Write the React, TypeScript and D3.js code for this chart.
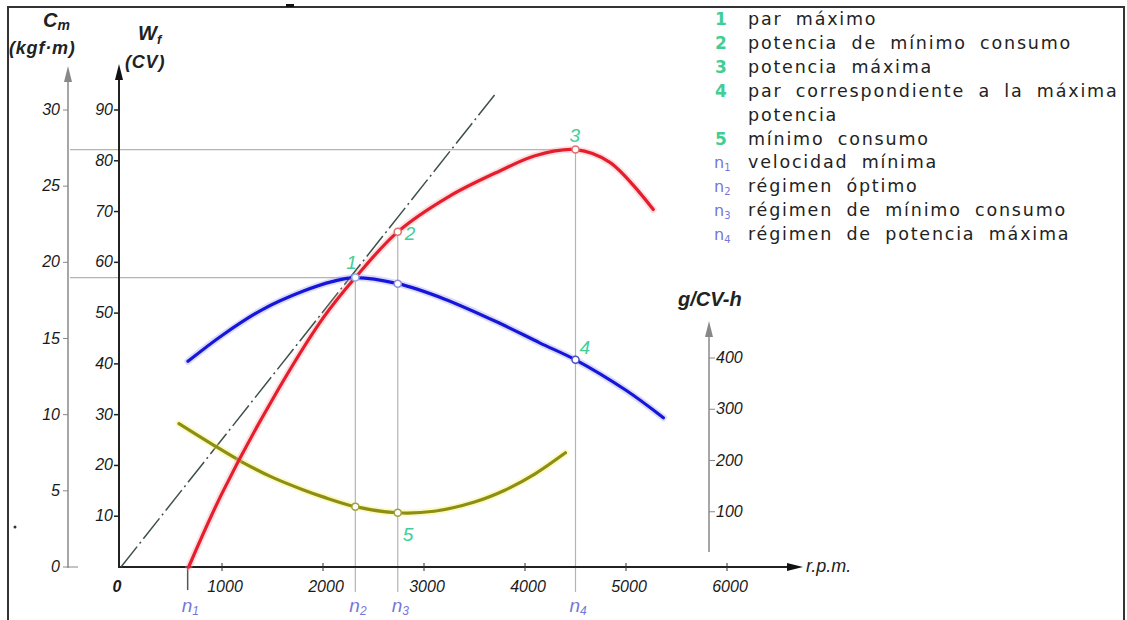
import React, { useRef, useEffect } from "react";
import * as d3 from "d3";

// curva de potencia (CV)
const powerRpm = [670, 1000, 1500, 2000, 2320, 2740, 3250, 3750, 4100, 4500, 4840, 5270];
const powerCV = [0, 14.5, 33, 49, 57, 66, 73, 78, 81, 82.2, 79.7, 70.4];

// curva de par (kgf·m)
const torqueRpm = [663, 1000, 1400, 1800, 2100, 2320, 2740, 3200, 3750, 4150, 4500, 5000, 5370];
const torqueKgfm = [13.5, 15.2, 16.9, 18.1, 18.75, 19.0, 18.6, 17.6, 16.0, 14.7, 13.6, 11.6, 9.8];

// consumo específico (g/CV-h)
const consRpm = [574, 900, 1200, 1500, 1800, 2000, 2320, 2740, 3100, 3500, 3800, 4100, 4400];
const consG = [272, 232, 197, 167, 143, 129, 110, 98, 101, 119, 142, 174, 215];

// recta tangente desde el origen
const tangentRpm = [0, 3700];
const tangentCV = [0, 93];

// regímenes
const nRpm = [660, 2320, 2740, 4500];
const nNames = ["1", "2", "3", "4"];

// ticks
const rpmTicks = [0, 1000, 2000, 3000, 4000, 5000, 6000];
const cvTicks = [10, 20, 30, 40, 50, 60, 70, 80, 90];
const cmTicks = [0, 5, 10, 15, 20, 25, 30];
const gTicks = [100, 200, 300, 400];

const legendKeys = ["1", "2", "3", "4", "", "5", "n1", "n2", "n3", "n4"];
const legendTexts = [
  "par máximo",
  "potencia de mínimo consumo",
  "potencia máxima",
  "par correspondiente a la máxima",
  "potencia",
  "mínimo consumo",
  "velocidad mínima",
  "régimen óptimo",
  "régimen de mínimo consumo",
  "régimen de potencia máxima",
];

const GREEN = "#3fcf96";
const NBLUE = "#7676d8";
const AXFONT = "'Liberation Sans Narrow', 'Liberation Sans', sans-serif";

export default function App() {
  const ref = useRef<SVGSVGElement>(null);

  useEffect(() => {
    const svg = d3.select(ref.current);
    svg.selectAll("*").remove();

    const x = d3.scaleLinear().domain([0, 6000]).range([121, 727]);
    const yW = d3.scaleLinear().domain([0, 90]).range([567, 110]);
    const yC = d3.scaleLinear().domain([0, 30]).range([567, 110]);
    const yG = d3.scaleLinear().domain([0, 400]).range([563, 358]);

    // marco
    svg.append("path")
      .attr("d", "M8,620 V7 H1124 V620")
      .attr("fill", "none")
      .attr("stroke", "#333")
      .attr("stroke-width", 2);
    svg.append("rect").attr("x", 286).attr("y", 4).attr("width", 8).attr("height", 3).attr("fill", "#111");
    svg.append("circle").attr("cx", 15).attr("cy", 527).attr("r", 1.5).attr("fill", "#333");

    const arrow = (cx: number, tip: number, color: string, horiz = false) => {
      const p = horiz
        ? `M${tip},${cx} L${tip - 16},${cx - 4} L${tip - 16},${cx + 4} Z`
        : `M${cx},${tip} L${cx - 4},${tip + 16} L${cx + 4},${tip + 16} Z`;
      svg.append("path").attr("d", p).attr("fill", color);
    };

    const pIdx = (r: number) => powerRpm.indexOf(r);
    const tIdx = (r: number) => torqueRpm.indexOf(r);
    const cIdx = (r: number) => consRpm.indexOf(r);

    // líneas guía
    const grid = svg.append("g").attr("stroke", "#b4b4b4").attr("stroke-width", 1.2);
    const wMax = yW(powerCV[pIdx(nRpm[3])]);
    const cMax = yC(torqueKgfm[tIdx(nRpm[1])]);
    grid.append("line").attr("x1", 70).attr("x2", x(nRpm[3])).attr("y1", wMax).attr("y2", wMax);
    grid.append("line").attr("x1", 70).attr("x2", x(nRpm[1])).attr("y1", cMax).attr("y2", cMax);
    grid.append("line").attr("x1", x(nRpm[1])).attr("x2", x(nRpm[1])).attr("y1", cMax).attr("y2", 592);
    grid.append("line").attr("x1", x(nRpm[2])).attr("x2", x(nRpm[2]))
      .attr("y1", yW(powerCV[pIdx(nRpm[2])])).attr("y2", 592);
    grid.append("line").attr("x1", x(nRpm[3])).attr("x2", x(nRpm[3])).attr("y1", wMax).attr("y2", 592);
    svg.append("line")
      .attr("x1", x(nRpm[0])).attr("x2", x(nRpm[0]))
      .attr("y1", 567).attr("y2", 590)
      .attr("stroke", "#555").attr("stroke-width", 1.5);

    const axisGroup = () =>
      svg.append("g").attr("font-family", AXFONT).attr("font-style", "italic")
        .attr("font-size", 16).attr("fill", "#1a1a1a");

    // eje Cm
    const gc = axisGroup();
    gc.append("line").attr("x1", 68).attr("x2", 68).attr("y1", 568).attr("y2", 80).attr("stroke", "#888").attr("stroke-width", 1.5);
    arrow(68, 66, "#888");
    cmTicks.forEach((t) => {
      gc.append("line").attr("x1", 63).attr("x2", t === 0 ? 78 : 68).attr("y1", yC(t)).attr("y2", yC(t)).attr("stroke", "#888");
      gc.append("text").attr("x", 60).attr("y", yC(t) + 5).attr("text-anchor", "end").text(t);
    });

    // eje W
    const gw = axisGroup();
    gw.append("line").attr("x1", 119).attr("x2", 119).attr("y1", 568).attr("y2", 80).attr("stroke", "#222").attr("stroke-width", 2);
    arrow(119, 64, "#111");
    cvTicks.forEach((t) => {
      gw.append("line").attr("x1", 114).attr("x2", 119).attr("y1", yW(t)).attr("y2", yW(t)).attr("stroke", "#222").attr("stroke-width", 1.5);
      gw.append("text").attr("x", 113).attr("y", yW(t) + 5).attr("text-anchor", "end").text(t);
    });

    // eje rpm
    const gx = axisGroup();
    gx.append("line").attr("x1", 119).attr("x2", 790).attr("y1", 567).attr("y2", 567).attr("stroke", "#222").attr("stroke-width", 2);
    arrow(567, 803, "#111", true);
    rpmTicks.forEach((t) => {
      if (t > 0) gx.append("line").attr("x1", x(t)).attr("x2", x(t)).attr("y1", 563).attr("y2", 571).attr("stroke", "#333");
      gx.append("text").attr("x", t === 0 ? 117 : x(t) + 3).attr("y", 592).attr("text-anchor", "middle")
        .attr("font-weight", t === 0 ? "bold" : "normal").text(t);
    });
    svg.append("text").attr("x", 806).attr("y", 572)
      .attr("font-family", AXFONT).attr("font-style", "italic").attr("font-size", 18).attr("fill", "#222").text("r.p.m.");

    // eje consumo
    const gg = axisGroup();
    gg.append("line").attr("x1", 709).attr("x2", 709).attr("y1", 552).attr("y2", 334).attr("stroke", "#888").attr("stroke-width", 1.5);
    arrow(709, 321, "#888");
    gTicks.forEach((t) => {
      gg.append("line").attr("x1", 709).attr("x2", 715).attr("y1", yG(t)).attr("y2", yG(t)).attr("stroke", "#888");
      gg.append("text").attr("x", 716).attr("y", yG(t) + 5).text(t);
    });
    svg.append("text").attr("x", 678).attr("y", 306)
      .attr("font-family", AXFONT).attr("font-style", "italic").attr("font-weight", "bold")
      .attr("font-size", 20).attr("fill", "#222").text("g/CV-h");

    // títulos de ejes
    const lab = svg.append("g").attr("font-family", AXFONT).attr("font-style", "italic").attr("fill", "#222").attr("font-weight", "bold");
    const cm = lab.append("text").attr("x", 43).attr("y", 27).attr("font-size", 20);
    cm.append("tspan").text("C");
    cm.append("tspan").attr("font-size", 14).attr("dy", 3).text("m");
    lab.append("text").attr("x", 9).attr("y", 54).attr("font-size", 18).attr("letter-spacing", 0.8).text("(kgf·m)");
    const wf = lab.append("text").attr("x", 138).attr("y", 40).attr("font-size", 20);
    wf.append("tspan").text("W");
    wf.append("tspan").attr("font-size", 13).attr("dy", 4).text("f");
    lab.append("text").attr("x", 125).attr("y", 68).attr("font-size", 18).attr("letter-spacing", 0.8).text("(CV)");

    // recta tangente
    svg.append("line")
      .attr("x1", x(tangentRpm[0])).attr("y1", yW(tangentCV[0]))
      .attr("x2", x(tangentRpm[1])).attr("y2", yW(tangentCV[1]))
      .attr("stroke", "#3e5048").attr("stroke-width", 1.5)
      .attr("stroke-dasharray", "26,4,2,4");

    const drawCurve = (xs: number[], ys: number[], ysc: d3.ScaleLinear<number, number>, color: string, halo: string) => {
      const line = d3.line<number>()
        .x((_, i) => x(xs[i]))
        .y((d) => ysc(d))
        .curve(d3.curveCatmullRom.alpha(0.5));
      svg.append("path").attr("d", line(ys)).attr("fill", "none")
        .attr("stroke", halo).attr("stroke-width", 7).attr("stroke-opacity", 0.35).attr("stroke-linecap", "round");
      svg.append("path").attr("d", line(ys)).attr("fill", "none")
        .attr("stroke", color).attr("stroke-width", 3.2).attr("stroke-linecap", "round");
    };

    drawCurve(consRpm, consG, yG, "#8e8e12", "#f2f25a");
    drawCurve(torqueRpm, torqueKgfm, yC, "#1616d8", "#9a9af0");
    drawCurve(powerRpm, powerCV, yW, "#e41e2c", "#f7a0a8");

    // puntos característicos
    const mark = (cx: number, cy: number, stroke: string) => {
      svg.append("circle").attr("cx", cx).attr("cy", cy).attr("r", 3.5)
        .attr("fill", "#fff").attr("stroke", stroke).attr("stroke-width", 1.5);
    };
    mark(x(nRpm[1]), cMax, "#8fb0e0");
    mark(x(nRpm[2]), yW(powerCV[pIdx(nRpm[2])]), "#e07070");
    mark(x(nRpm[3]), wMax, "#e07070");
    mark(x(nRpm[2]), yC(torqueKgfm[tIdx(nRpm[2])]), "#8f8fe0");
    mark(x(nRpm[3]), yC(torqueKgfm[tIdx(nRpm[3])]), "#5050c0");
    mark(x(nRpm[1]), yG(consG[cIdx(nRpm[1])]), "#a0a040");
    mark(x(nRpm[2]), yG(consG[cIdx(nRpm[2])]), "#a0a040");

    // números de puntos
    const num = svg.append("g").attr("font-family", AXFONT).attr("font-style", "italic")
      .attr("font-size", 19).attr("fill", GREEN);
    num.append("text").attr("x", x(nRpm[1]) - 9).attr("y", cMax - 9).text(nNames[0]);
    num.append("text").attr("x", x(nRpm[2]) + 7).attr("y", yW(powerCV[pIdx(nRpm[2])]) + 8).text(nNames[1]);
    num.append("text").attr("x", x(nRpm[3]) - 6).attr("y", wMax - 8).text(nNames[2]);
    num.append("text").attr("x", x(nRpm[3]) + 4).attr("y", yC(torqueKgfm[tIdx(nRpm[3])]) - 6).text(nNames[3]);
    num.append("text").attr("x", x(nRpm[2]) + 5).attr("y", yG(consG[cIdx(nRpm[2])]) + 28).text("5");

    // etiquetas n
    nRpm.forEach((r, i) => {
      const t = svg.append("text").attr("x", x(r) - 6).attr("y", 612)
        .attr("font-family", AXFONT).attr("font-style", "italic").attr("font-size", 19).attr("fill", NBLUE);
      t.append("tspan").text("n");
      t.append("tspan").attr("font-size", 12).attr("dy", 3).text(i + 1);
    });

    // leyenda
    const leg = svg.append("g").attr("font-family", "'DejaVu Sans', sans-serif");
    legendTexts.forEach((txt, i) => {
      const y = 25 + i * 23.9;
      const key = legendKeys[i];
      if (key.startsWith("n")) {
        const k = leg.append("text").attr("x", 714).attr("y", y).attr("font-size", 16).attr("fill", NBLUE);
        k.append("tspan").text("n");
        k.append("tspan").attr("font-size", 10).attr("dy", 3).text(key.slice(1));
      } else if (key) {
        leg.append("text").attr("x", 721).attr("y", y).attr("text-anchor", "middle")
          .attr("font-size", 17).attr("font-weight", "bold").attr("fill", GREEN).text(key);
      }
      leg.append("text").attr("x", 748).attr("y", y)
        .attr("font-size", 17.5).attr("fill", "#222")
        .attr("letter-spacing", 1.8).attr("word-spacing", 6)
        .text(txt);
    });
  }, []);

  return (
    <svg
      ref={ref}
      width={1127}
      height={620}
      style={{ position: "absolute", left: 0, top: 0, background: "#fff" }}
    />
  );
}
